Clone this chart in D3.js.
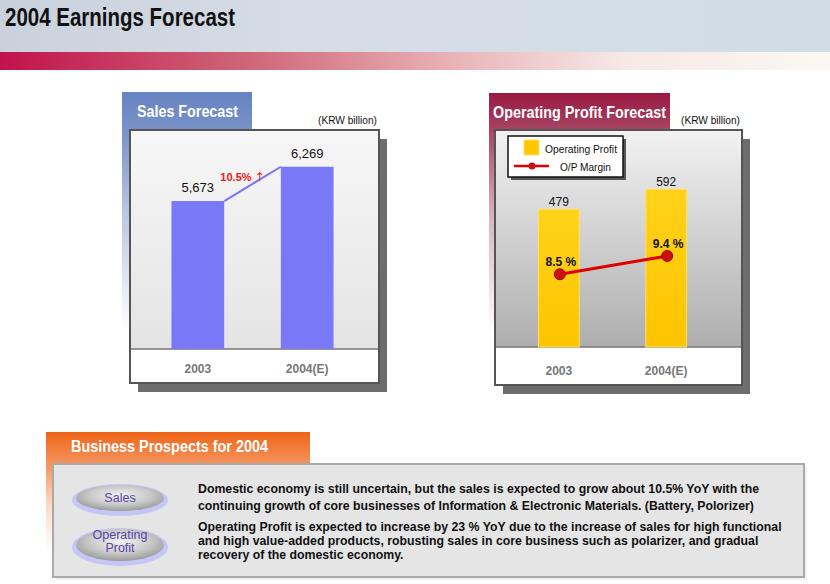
<!DOCTYPE html>
<html>
<head>
<meta charset="utf-8">
<script src="https://d3js.org/d3.v7.min.js"></script>
<style>
  body { margin: 0; background: #fff; }
  svg { display: block; font-family: "Liberation Sans", Arial, sans-serif; }
</style>
</head>
<body>
<div id="container"></div>
<script>
'use strict';

const w = 830;
const h = 584;

// data
const categories = ['2003', '2004(E)'];
const sales = [5673, 6269];
const salesGrowth = '10.5%';
const opProfit = [479, 592];
const opMargin = [8.5, 9.4];
const prospects = [
    { tag: ['Sales'], lines: [
        'Domestic economy is still uncertain, but the sales is expected to grow about 10.5% YoY with the',
        'continuing growth of core businesses of Information & Electronic Materials. (Battery, Polorizer)'
    ] },
    { tag: ['Operating', 'Profit'], lines: [
        'Operating Profit is expected to increase by 23 % YoY due to the increase of sales for high functional',
        'and high value-added products, robusting sales in core business such as polarizer, and gradual',
        'recovery of the domestic economy.'
    ] }
];

const svg = d3.select('#container')
    .append('svg')
    .attr('width', w)
    .attr('height', h);

const defs = svg.append('defs');

function linGrad(id, stops, x2, y2) {
    const g = defs.append('linearGradient')
        .attr('id', id)
        .attr('x1', 0).attr('y1', 0)
        .attr('x2', x2).attr('y2', y2);
    stops.forEach((s) => g.append('stop').attr('offset', s[0]).attr('stop-color', s[1]));
}

linGrad('hdr', [[0, '#c9d1dc'], [0.35, '#d6dce6'], [0.7, '#d3dde5'], [1, '#d0dde4']], 1, 0);
linGrad('band', [[0, '#c2124c'], [0.3, '#cf6678'], [0.55, '#e9b4b8'], [0.75, '#f6e8e6'], [1, '#fbf8f2']], 1, 0);
linGrad('blueTab', [[0, '#6683c2'], [0.17, '#7a93c8'], [0.5, '#b9c6e2'], [1, '#ffffff']], 0, 1);
linGrad('redTab', [[0, '#9a1842'], [0.17, '#a84a66'], [0.5, '#d8b0bc'], [1, '#ffffff']], 0, 1);
linGrad('orTab', [[0, '#ee6417'], [0.3, '#f59a66'], [0.6, '#fbd9c6'], [1, '#ffffff']], 0, 1);
linGrad('salesBg', [[0, '#f7f7f7'], [1, '#e4e4e4']], 0, 1);
linGrad('opBg', [[0, '#f2f2f2'], [1, '#aeaeae']], 0, 1);
linGrad('gold', [[0, '#ffd21a'], [1, '#fdc400']], 0, 1);

const oval = defs.append('radialGradient').attr('id', 'oval')
    .attr('cx', 0.5).attr('cy', 0.4).attr('r', 0.6);
oval.append('stop').attr('offset', 0).attr('stop-color', '#f2f2f2');
oval.append('stop').attr('offset', 0.6).attr('stop-color', '#c8c8c8');
oval.append('stop').attr('offset', 1).attr('stop-color', '#9a9a9a');

// header
svg.append('rect').attr('x', 0).attr('y', 0).attr('width', w).attr('height', 52).attr('fill', 'url(#hdr)');
svg.append('rect').attr('x', 0).attr('y', 52).attr('width', w).attr('height', 18).attr('fill', 'url(#band)');
svg.append('text')
    .attr('x', 5).attr('y', 26)
    .attr('textLength', 230).attr('lengthAdjust', 'spacingAndGlyphs')
    .style('font-family', '"Liberation Sans Narrow", "Liberation Sans", Arial, sans-serif')
    .style('font-size', '25px').style('font-weight', 'bold')
    .attr('fill', '#111')
    .text('2004 Earnings Forecast');

// panel frame helper
function panel(p) {
    svg.append('rect').attr('x', p.tabX).attr('y', p.tabY)
        .attr('width', p.tabW).attr('height', 240).attr('fill', p.tabFill);
    svg.append('text').attr('x', p.titleX).attr('y', p.tabY + 25)
        .attr('textLength', p.titleW).attr('lengthAdjust', 'spacingAndGlyphs')
        .attr('fill', '#fff')
        .style('font-size', '16px').style('font-weight', 'bold')
        .text(p.title);
    svg.append('text').attr('x', p.x1 - 61).attr('y', 124)
        .attr('textLength', 59).attr('lengthAdjust', 'spacingAndGlyphs')
        .attr('fill', '#111')
        .style('font-size', '11px')
        .text('(KRW billion)');
    // shadow
    svg.append('rect').attr('x', p.x0 + 8).attr('y', p.y0 + 9)
        .attr('width', p.x1 - p.x0).attr('height', p.y2 - p.y0)
        .attr('fill', '#6d6d6d');
    svg.append('rect').attr('x', p.x0).attr('y', p.y0)
        .attr('width', p.x1 - p.x0).attr('height', p.y1 - p.y0)
        .attr('fill', p.bg);
    svg.append('rect').attr('x', p.x0).attr('y', p.y1)
        .attr('width', p.x1 - p.x0).attr('height', p.y2 - p.y1)
        .attr('fill', '#fff');
    svg.append('line').attr('x1', p.x0).attr('x2', p.x1).attr('y1', p.y1).attr('y2', p.y1)
        .attr('stroke', '#777').attr('stroke-width', 1.5);
    svg.append('rect').attr('x', p.x0).attr('y', p.y0)
        .attr('width', p.x1 - p.x0).attr('height', p.y2 - p.y0)
        .attr('fill', 'none').attr('stroke', '#555').attr('stroke-width', 2);
}

// ---- Sales panel ----
const sp = { tabX: 122, tabY: 92, tabW: 130, tabFill: 'url(#blueTab)', title: 'Sales Forecast',
    titleX: 137, titleW: 101,
    x0: 130, x1: 379, y0: 130, y1: 349, y2: 383, bg: 'url(#salesBg)' };
panel(sp);

const sx = d3.scaleBand().domain(categories).range([130, 375]).paddingInner(0.518).paddingOuter(0.379);
const sy = d3.scaleLinear().domain([3100, 6908]).range([sp.y1, sp.y0]);

svg.append('g').selectAll('rect')
    .data(sales)
    .enter()
    .append('rect')
    .attr('x', (d, i) => sx(categories[i]))
    .attr('y', (d) => sy(d))
    .attr('width', sx.bandwidth())
    .attr('height', (d) => sp.y1 - sy(d))
    .attr('fill', '#7979f7');

svg.append('line')
    .attr('x1', sx(categories[0]) + sx.bandwidth()).attr('y1', sy(sales[0]))
    .attr('x2', sx(categories[1])).attr('y2', sy(sales[1]))
    .attr('stroke', '#7878f8').attr('stroke-width', 2);

svg.append('g').selectAll('text')
    .data(sales)
    .enter()
    .append('text')
    .attr('x', (d, i) => sx(categories[i]) + sx.bandwidth() / 2)
    .attr('y', (d) => sy(d) - 9)
    .attr('text-anchor', 'middle').attr('fill', '#111')
    .style('font-size', '13px')
    .text((d) => d3.format(',')(d));

const growth = svg.append('text')
    .attr('x', (sx(categories[0]) + sx.bandwidth() + sx(categories[1])) / 2 - 10)
    .attr('y', (sy(sales[0]) + sy(sales[1])) / 2 - 3)
    .attr('text-anchor', 'middle').attr('fill', '#f01818')
    .style('font-size', '11px').style('font-weight', 'bold');
growth.append('tspan').text(salesGrowth + ' ');
growth.append('tspan')
    .style('font-family', '"DejaVu Sans", sans-serif').style('font-weight', 'normal')
    .style('font-size', '12px')
    .text('\u2191');

const sxAxis = svg.append('g')
    .attr('transform', 'translate(0,' + (sp.y1 + 15) + ')')
    .call(d3.axisBottom(sx).tickSize(0).tickPadding(0));
sxAxis.select('.domain').remove();
sxAxis.selectAll('text')
    .attr('fill', '#777').style('font-size', '12px').style('font-weight', 'bold')
    .style('font-family', '"Liberation Sans", Arial, sans-serif');

// ---- Operating profit panel ----
const op = { tabX: 489, tabY: 93, tabW: 181, tabFill: 'url(#redTab)', title: 'Operating Profit Forecast',
    titleX: 493, titleW: 173,
    x0: 495, x1: 742, y0: 130, y1: 347, y2: 385, bg: 'url(#opBg)' };
panel(op);

const ox = d3.scaleBand().domain(categories).range([495, 730]).paddingInner(0.621).paddingOuter(0.405);
const oy = d3.scaleLinear().domain([-300, 927]).range([op.y1, op.y0]);
const my = d3.scaleLinear().domain([4.92, 15.6]).range([op.y1, op.y0]);

svg.append('g').selectAll('rect')
    .data(opProfit)
    .enter()
    .append('rect')
    .attr('x', (d, i) => ox(categories[i]))
    .attr('y', (d) => oy(d))
    .attr('width', ox.bandwidth())
    .attr('height', (d) => op.y1 - oy(d))
    .attr('fill', 'url(#gold)')
    .attr('stroke', '#ffe066').attr('stroke-width', 1);

svg.append('g').selectAll('text')
    .data(opProfit)
    .enter()
    .append('text')
    .attr('x', (d, i) => ox(categories[i]) + ox.bandwidth() / 2)
    .attr('y', (d) => oy(d) - 3)
    .attr('text-anchor', 'middle').attr('fill', '#111')
    .style('font-size', '12px')
    .text((d) => d);

const mLine = d3.line()
    .x((d, i) => ox(categories[i]) + ox.bandwidth() / 2 + 1)
    .y((d) => my(d));

svg.append('path').datum(opMargin)
    .attr('d', mLine)
    .attr('fill', 'none').attr('stroke', '#e00000').attr('stroke-width', 3);

svg.append('g').selectAll('circle')
    .data(opMargin)
    .enter()
    .append('circle')
    .attr('cx', (d, i) => ox(categories[i]) + ox.bandwidth() / 2 + 1)
    .attr('cy', (d) => my(d))
    .attr('r', 5.5)
    .attr('fill', '#cc1010').attr('stroke', '#a00000').attr('stroke-width', 1);

svg.append('g').selectAll('text')
    .data(opMargin)
    .enter()
    .append('text')
    .attr('x', (d, i) => ox(categories[i]) + ox.bandwidth() / 2 + 2)
    .attr('y', (d) => my(d) - 8)
    .attr('text-anchor', 'middle').attr('fill', '#111')
    .style('font-size', '12px').style('font-weight', 'bold')
    .text((d) => d3.format('.1f')(d) + ' %');

const oxAxis = svg.append('g')
    .attr('transform', 'translate(0,' + (op.y1 + 19) + ')')
    .call(d3.axisBottom(ox).tickSize(0).tickPadding(0));
oxAxis.select('.domain').remove();
oxAxis.selectAll('text')
    .attr('fill', '#777').style('font-size', '12px').style('font-weight', 'bold')
    .style('font-family', '"Liberation Sans", Arial, sans-serif');

// legend
const lg = svg.append('g').attr('transform', 'translate(508,136)');
lg.append('rect').attr('x', 3).attr('y', 3).attr('width', 115).attr('height', 41).attr('fill', '#555');
lg.append('rect').attr('x', 0).attr('y', 0).attr('width', 115).attr('height', 41)
    .attr('fill', '#fff').attr('stroke', '#111').attr('stroke-width', 1.5);
lg.append('rect').attr('x', 16).attr('y', 4).attr('width', 15).attr('height', 15)
    .attr('fill', '#fdc800').attr('stroke', '#ffe066');
lg.append('text').attr('x', 37).attr('y', 17).style('font-size', '11px').attr('fill', '#111')
    .attr('textLength', 72).attr('lengthAdjust', 'spacingAndGlyphs')
    .text('Operating Profit');
lg.append('line').attr('x1', 6).attr('x2', 41).attr('y1', 30).attr('y2', 30)
    .attr('stroke', '#e00000').attr('stroke-width', 2.5);
lg.append('circle').attr('cx', 24).attr('cy', 30).attr('r', 3.5).attr('fill', '#cc1010');
lg.append('text').attr('x', 52).attr('y', 35).style('font-size', '11px').attr('fill', '#111')
    .attr('textLength', 51).attr('lengthAdjust', 'spacingAndGlyphs')
    .text('O/P Margin');

// ---- Business prospects ----
svg.append('rect').attr('x', 46).attr('y', 432).attr('width', 264).attr('height', 120).attr('fill', 'url(#orTab)');
svg.append('text').attr('x', 71).attr('y', 452)
    .attr('textLength', 197).attr('lengthAdjust', 'spacingAndGlyphs')
    .attr('fill', '#fff').style('font-size', '16px').style('font-weight', 'bold')
    .text('Business Prospects for 2004');

svg.append('rect').attr('x', 56).attr('y', 467).attr('width', 751).attr('height', 113).attr('fill', '#f2f2f2');
svg.append('rect').attr('x', 53).attr('y', 464).attr('width', 751).attr('height', 113)
    .attr('fill', '#e5e5e5').attr('stroke', '#a9a9a9').attr('stroke-width', 2);

const tagY = [498, 545];
const tagDy = [4, 0.5];
const lineY = [[493, 510], [531, 545, 559]];

prospects.forEach((p, i) => {
    const g = svg.append('g');
    g.append('ellipse').attr('cx', 120).attr('cy', tagY[i] + 2)
        .attr('rx', 48).attr('ry', i ? 19 : 16).attr('fill', '#c6c6f6');
    g.append('ellipse').attr('cx', 120).attr('cy', tagY[i])
        .attr('rx', 44).attr('ry', i ? 16 : 13).attr('fill', 'url(#oval)');
    p.tag.forEach((t, j) => {
        g.append('text').attr('x', 120)
            .attr('y', tagY[i] + tagDy[i] + (j - (p.tag.length - 1) / 2) * 13)
            .attr('text-anchor', 'middle').attr('fill', '#5a44aa')
            .style('font-size', '12.5px')
            .text(t);
    });
    p.lines.forEach((l, j) => {
        g.append('text').attr('x', 198).attr('y', lineY[i][j])
            .attr('fill', '#111')
            .style('font-size', '12.3px').style('font-weight', 'bold')
            .text(l);
    });
});
</script>
</body>
</html>
